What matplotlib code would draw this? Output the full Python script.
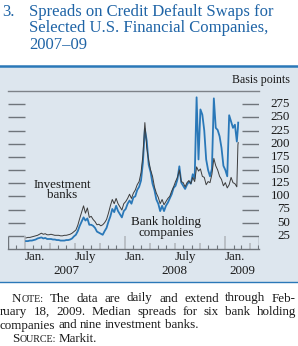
import pandas as pd
import matplotlib
matplotlib.use("Agg")
import matplotlib.pyplot as plt
import matplotlib.transforms as mtransforms
from matplotlib.patches import Rectangle
from matplotlib.lines import Line2D

# weekly readings (basis points), plus the last two days of data
dates = list(pd.date_range("2007-01-05", periods=111, freq="7D")) + [pd.Timestamp("2009-02-17"), pd.Timestamp("2009-02-18")]

investment_banks = [
    21, 22, 22, 23, 24, 25, 26, 28, 30, 28, 29, 27, 27,
    28, 27, 26, 26, 26, 25, 25, 26, 26, 27, 28, 30, 33,
    36, 45, 58, 70, 82, 68, 78, 60, 62, 56, 52, 46, 47,
    44, 46, 50, 56, 68, 82, 94, 86, 96, 86, 80, 74, 86,
    90, 96, 104, 96, 106, 112, 122, 128, 145, 178, 240, 192, 168,
    150, 138, 118, 106, 98, 86, 94, 84, 90, 96, 100, 110, 118,
    128, 136, 150, 128, 126, 118, 126, 130, 124, 136, 128, 156, 148,
    152, 138, 136, 122, 128, 126, 142, 172, 158, 150, 138, 132, 120,
    126, 116, 122, 136, 126, 124, 118, 198, 202,
]

bank_holding = [
    15, 15, 16, 16, 17, 18, 20, 21, 22, 20, 21, 19, 19,
    19, 18, 18, 17, 17, 16, 16, 16, 17, 17, 18, 20, 24,
    27, 34, 44, 52, 60, 54, 58, 46, 46, 44, 40, 33, 31,
    29, 27, 34, 40, 52, 62, 76, 70, 82, 72, 66, 60, 72,
    76, 86, 92, 86, 98, 100, 112, 118, 130, 165, 228, 205, 160,
    146, 124, 112, 94, 86, 72, 82, 72, 82, 88, 96, 104, 116,
    120, 132, 157, 126, 120, 114, 122, 128, 124, 142, 134, 288, 170,
    265, 255, 225, 170, 150, 138, 152, 286, 230, 226, 214, 192, 158,
    150, 138, 254, 242, 230, 236, 204, 230, 240,
]

y_ticks = [25, 50, 75, 100, 125, 150, 175, 200, 225, 250, 275]
month_labels = {"2007-01-01": "Jan.", "2007-07-01": "July", "2008-01-01": "Jan.",
                "2008-07-01": "July", "2009-01-01": "Jan."}
year_labels = ["2007", "2008", "2009"]

BLUE = "#2a78b8"
TITLE_BLUE = "#1f64a6"
PANEL = "#dde6ee"
DARK = "#6f757b"
LIGHT = "#b3b9bf"
TXT = "#1a1a1a"

plt.rcParams["font.family"] = ["Liberation Serif", "DejaVu Serif"]

W, H = 298, 346
fig = plt.figure(figsize=(W / 100, H / 100), dpi=100)
fig.patch.set_facecolor("white")

# shaded panel and blue rules
fig.add_artist(Rectangle((0, 1 - 282 / H), 1, (282 - 66) / H, transform=fig.transFigure,
                         facecolor=PANEL, edgecolor="none", zorder=0))
fig.add_artist(Line2D([0, 1], [1 - 66 / H] * 2, transform=fig.transFigure, color=BLUE, lw=1.8))
fig.add_artist(Line2D([0, 1], [1 - 282 / H] * 2, transform=fig.transFigure, color=BLUE, lw=1.0))

# title
fig.text(2 / W, 1 - 16 / H, "3.", color=TITLE_BLUE, fontsize=12, va="baseline")
for i, line in enumerate(["Spreads on Credit Default Swaps for",
                          "Selected U.S. Financial Companies,",
                          "2007\u201309"]):
    fig.text(29 / W, 1 - (16 + 16.5 * i) / H, line, color=TITLE_BLUE, fontsize=12, va="baseline")

ax = fig.add_axes([8 / W, 1 - 249 / H, 251 / W, 158 / H])
ax.set_facecolor("none")
x0, x1 = pd.Timestamp("2006-10-31"), pd.Timestamp("2009-05-05")
ax.set_xlim(x0, x1)
ax.set_ylim(0, 300)
for s in ["left", "right"]:
    ax.spines[s].set_visible(False)
ax.spines["top"].set_color("#7d8288")
ax.spines["top"].set_linewidth(1.0)
ax.spines["bottom"].set_color(DARK)
ax.spines["bottom"].set_linewidth(1.0)
ax.set_xticks([])
ax.set_yticks([])

ax.plot(dates, bank_holding, color=BLUE, lw=1.3, zorder=3)
ax.plot(dates, investment_banks, color="#3c3c3c", lw=0.7, zorder=4)

# gridline stubs at both sides
tr_y = mtransforms.blended_transform_factory(ax.transAxes, ax.transData)
stub = 17 / 251
for v in y_ticks:
    ax.hlines(v, 0, stub, transform=tr_y, color=DARK, lw=1.0)
    ax.hlines(v, 1 - stub, 1, transform=tr_y, color=DARK, lw=1.0)
    ax.text((290 - 8) / 251, v, str(v), transform=tr_y, ha="right", va="center",
            fontsize=9.4, color=TXT)
ax.vlines([0, 1], 0, y_ticks[0], transform=tr_y, color=DARK, lw=1.0)
ax.text((290 - 8) / 251, 1.07, "Basis points", transform=ax.transAxes, ha="right",
        va="center", fontsize=8.6, color=TXT)

# month ticks
tr_x = mtransforms.blended_transform_factory(ax.transData, ax.transAxes)
for m in pd.date_range("2006-11-01", "2009-05-01", freq="MS"):
    if m.month == 1:
        ax.vlines(m, 0, 25 / 300, transform=tr_x, color=LIGHT, lw=1.2)
    elif m.month in (4, 7, 10):
        ax.vlines(m, 0, 6 / 158, transform=tr_x, color=LIGHT, lw=1.2)
    else:
        ax.vlines(m, 0, 4 / 158, transform=tr_x, color=DARK, lw=0.8)

for d, lab in month_labels.items():
    ax.text(pd.Timestamp(d), -0.05, lab, transform=tr_x, ha="left", va="center",
            fontsize=9.4, color=TXT)
year_pos = [x0 + (pd.Timestamp("2008-01-01") - x0) / 2,
            pd.Timestamp("2008-07-01"),
            pd.Timestamp("2009-01-01") + (x1 - pd.Timestamp("2009-01-01")) / 2]
for d, lab in zip(year_pos, year_labels):
    ax.text(d, -0.139, lab, transform=tr_x, ha="center", va="center", fontsize=9.4, color=TXT)

ax.text(pd.Timestamp("2007-05-16"), 112, "Investment\nbanks", ha="center", va="center",
        fontsize=9.4, color=TXT, linespacing=0.85)
ax.text(pd.Timestamp("2008-05-30"), 41, "Bank holding\ncompanies", ha="center", va="center",
        fontsize=9.4, color=TXT, linespacing=0.85)

# note, set justified like the source
renderer = fig.canvas.get_renderer()
NS = 9.4
SC = 7.2


def place(words, left, right, base, justify=True):
    items = []
    for w in words:
        parts = w if isinstance(w, list) else [(w, NS)]
        ts = [fig.text(0, 1 - base / H, s, fontsize=sz, color=TXT, va="baseline") for s, sz in parts]
        ws = [t.get_window_extent(renderer).width for t in ts]
        items.append((ts, ws))
    total = sum(sum(ws) for _, ws in items)
    gap = (right - left - total) / (len(items) - 1) if justify else 3.0
    x = left
    for ts, ws in items:
        for t, w in zip(ts, ws):
            t.set_x(x / W)
            x += w
        x += gap


place([[("N", NS), ("OTE:", SC)], "The", "data", "are", "daily", "and", "extend", "through", "Feb-"],
      12, 296, 301.5)
place(["ruary", "18,", "2009.", "Median", "spreads", "for", "six", "bank", "holding"], 0, 296, 315)
place(["companies", "and", "nine", "investment", "banks."], 0, 296, 328.5, justify=False)
place([[("S", NS), ("OURCE:", SC)], "Markit."], 12, 296, 342, justify=False)

fig.savefig("out.png", dpi=100, facecolor="white")
